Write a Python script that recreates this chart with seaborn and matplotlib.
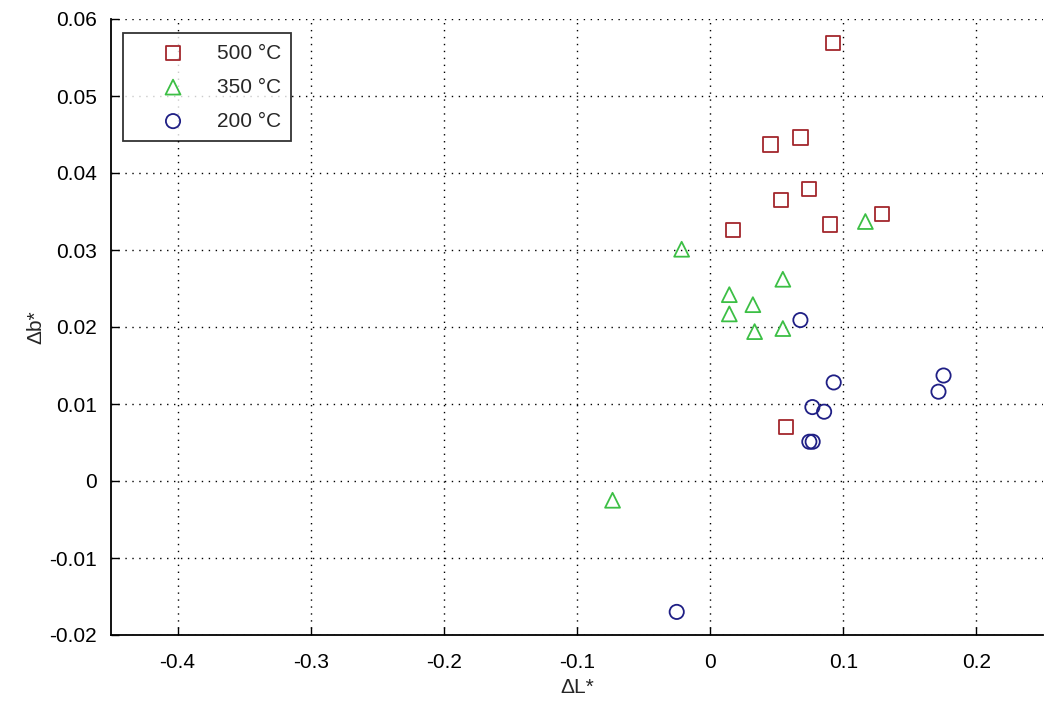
import matplotlib
matplotlib.use("Agg")
import matplotlib.pyplot as plt
import seaborn as sns
import pandas as pd

# ---- data ----
x_500 = [0.0920, 0.0454, 0.0678, 0.0531, 0.0743, 0.0174, 0.0903, 0.1290, 0.0571]
y_500 = [0.0569, 0.0437, 0.0446, 0.0365, 0.0379, 0.0326, 0.0333, 0.0347, 0.0070]

x_350 = [0.1166, -0.0214, 0.0546, 0.0144, 0.0321, 0.0144, 0.0334, 0.0546, -0.0733]
y_350 = [0.0337, 0.0301, 0.0262, 0.0242, 0.0229, 0.0217, 0.0194, 0.0198, -0.0025]

x_200 = [0.0678, 0.0928, 0.0768, 0.0856, 0.0745, 0.0770, 0.1753, 0.1715, -0.0251]
y_200 = [0.0209, 0.0128, 0.0096, 0.0090, 0.0051, 0.0051, 0.0137, 0.0116, -0.0170]

labels = ["500 °C", "350 °C", "200 °C"]
x_ticks = [-0.4, -0.3, -0.2, -0.1, 0, 0.1, 0.2]
x_ticklabels = ["-0.4", "-0.3", "-0.2", "-0.1", "0", "0.1", "0.2"]
y_ticks = [-0.02, -0.01, 0, 0.01, 0.02, 0.03, 0.04, 0.05, 0.06]
y_ticklabels = ["-0.02", "-0.01", "0", "0.01", "0.02", "0.03", "0.04", "0.05", "0.06"]

sns.set_style("white")
plt.rcParams["font.family"] = ["Liberation Sans", "DejaVu Sans"]

FS = 15

fig = plt.figure(figsize=(10.45, 7.06), dpi=100)
ax = fig.add_axes([111 / 1045, 71 / 706, 932 / 1045, 616 / 706])

series = [
    (x_500, y_500, labels[0], "s", "#a3262c", 105),
    (x_350, y_350, labels[1], "^", "#3cbf45", 115),
    (x_200, y_200, labels[2], "o", "#1f1f85", 105),
]
for xs, ys, lab, mk, col, sz in series:
    df = pd.DataFrame({"dL": xs, "db": ys})
    sns.scatterplot(data=df, x="dL", y="db", ax=ax, marker=mk, s=sz,
                    facecolor="none", edgecolor=col, linewidth=1.3, label=lab)

ax.set_xlim(-0.45, 0.25)
ax.set_ylim(-0.02, 0.06)
ax.set_xticks(x_ticks)
ax.set_xticklabels(x_ticklabels)
ax.set_yticks(y_ticks)
ax.set_yticklabels(y_ticklabels)
ax.tick_params(axis="both", direction="in", length=6, width=1.0, labelsize=FS,
               colors="black", bottom=True, left=True)
ax.tick_params(axis="x", pad=13)
ax.tick_params(axis="y", pad=10)
ax.grid(True, linestyle=(0, (1, 4)), color="black", linewidth=1.0)
for side in ["top", "right"]:
    ax.spines[side].set_visible(False)
for side in ["left", "bottom"]:
    ax.spines[side].set_color("black")
    ax.spines[side].set_linewidth(1.3)

ax.set_xlabel("ΔL*", fontsize=FS, labelpad=4)
ax.set_ylabel("Δb*", fontsize=FS, labelpad=3)

leg = ax.legend(loc="upper left", bbox_to_anchor=(0.0129, 0.977), borderaxespad=0,
                fontsize=FS, frameon=True, fancybox=False, edgecolor="black",
                handletextpad=0.2, borderpad=0.5, labelspacing=0.72,
                handlelength=3.8)
leg.get_frame().set_linewidth(1.3)

fig.savefig("out.png", dpi=100)
